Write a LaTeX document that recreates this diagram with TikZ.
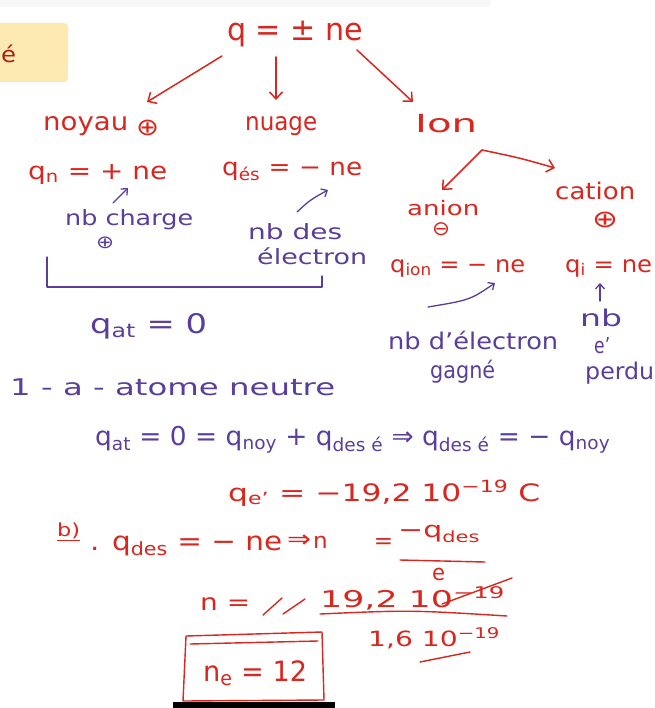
\documentclass[tikz,border=0pt]{standalone}
\usepackage{fontspec}
\setmainfont{DejaVu Sans}
\usetikzlibrary{arrows.meta}
\definecolor{ink}{HTML}{D9261F}
\definecolor{pen}{HTML}{5A3E9C}
\definecolor{note}{HTML}{FCEAB2}
\newcommand{\hw}[3]{\resizebox{#1pt}{\height}{\fontsize{#2}{#2}\selectfont #3}}
\newcommand{\sbt}[1]{\textsubscript{#1}}
\newcommand{\spt}[1]{\textsuperscript{#1}}
\tikzset{
  rt/.style={text=ink, inner sep=0pt, anchor=west},
  pt/.style={text=pen, inner sep=0pt, anchor=west},
  rarr/.style={draw=ink, line width=1.5pt, line cap=round, line join=round, -{Straight Barb[length=7pt,width=13pt]}},
  rline/.style={draw=ink, line width=1.4pt, line cap=round, line join=round},
  parr/.style={draw=pen, line width=1.3pt, line cap=round, -{Straight Barb[length=5pt,width=9pt]}},
  pline/.style={draw=pen, line width=1.3pt, line cap=round, line join=round},
}
\begin{document}
\begin{tikzpicture}[x=1pt,y=-1pt]
\fill[white] (0,0) rectangle (654,708);
\useasboundingbox (0,0) rectangle (654,708);
% background details
\fill[gray!6] (0,0) rectangle (490,7);
\fill[note, rounded corners=4pt] (-6,23) rectangle (68,82);
\node[rt, text=ink!80!black] (ee) at (1,54) {\hw{15}{22}{é}};
\fill[black] (173,702) rectangle (335,708);

% top level
\node[rt] (q) at (227,34) {\hw{136}{31}{q = ± ne}};
\node[rt] (noy) at (43,126) {\hw{85}{25}{noyau}};
\node[rt] (noyp) at (136,128) {\hw{23}{24}{⊕}};
\node[rt] (nua) at (245,126) {\hw{72}{25}{nuage}};
\node[rt] (ion) at (415,124) {\hw{62}{25}{Ion}};
\coordinate (qa) at (222,56);
\coordinate (qb) at (147,102);
\coordinate (qc) at (276,57);
\coordinate (qd) at (276,100);
\coordinate (qe) at (357,50);
\coordinate (qf) at (413,102);
\draw[rarr] (qa) -- (qb);
\draw[rarr] (qc) -- (qd);
\draw[rarr] (qe) -- (qf);

% second row
\node[rt] (qn) at (28,174) {\hw{139}{24}{q\sbt{n} = + ne}};
\node[rt] (qes) at (222,171) {\hw{140}{24}{q\sbt{és} = − ne}};
\coordinate (ia) at (482,150);
\coordinate (ib) at (442,190);
\coordinate (ic) at (555,168);
\draw[rarr] (ia) -- (ib);
\draw[rarr] (ia) .. controls (520,158) .. (ic);
\node[rt] (ani) at (407,208) {\hw{72}{20}{anion}};
\node[rt] (anim) at (432,229) {\hw{18}{20}{⊖}};
\node[rt] (cat) at (555,191) {\hw{80}{23}{cation}};
\node[rt] (catp) at (592,220) {\hw{26}{24}{⊕}};

% purple notes left
\coordinate (sa) at (113,203);
\coordinate (sb) at (128,188);
\draw[parr] (sa) -- (sb);
\node[pt] (nbc) at (65,220) {\hw{128}{21}{nb charge}};
\node[pt] (nbcp) at (96,243) {\hw{18}{18}{⊕}};
\coordinate (sc) at (297,212);
\coordinate (sd) at (328,190);
\draw[parr] (sc) .. controls (310,200) .. (sd);
\node[pt] (nbd) at (248,232) {\hw{94}{21}{nb des}};
\node[pt] (ele) at (257,256) {\hw{110}{21}{électron}};
\coordinate (ba) at (47,257);
\coordinate (bb) at (322,276);
\draw[pline] (ba) -- (47,287) -- (322,287) -- (bb);
\node[pt] (qat) at (90,326) {\hw{117}{27}{q\sbt{at} = 0}};

% ions
\node[rt] (qion) at (390,268) {\hw{135}{23}{q\sbt{ion} = − ne}};
\node[rt] (qi) at (565,268) {\hw{87}{23}{q\sbt{i} = ne}};
\coordinate (pa) at (428,307);
\coordinate (pb) at (495,283);
\draw[parr] (pa) .. controls (470,300) .. (pb);
\coordinate (pc) at (600,301);
\coordinate (pd) at (600,283);
\draw[parr] (pc) -- (pd);
\node[pt] (nbe) at (388,340) {\hw{170}{23}{nb d'électron}};
\node[pt] (gag) at (430,372) {\hw{65}{23}{gagné}};
\node[pt] (nb2) at (580,318) {\hw{42}{23}{nb}};
\node[pt] (e2) at (594,346) {\hw{16}{22}{e'}};
\node[pt] (per) at (585,373) {\hw{69}{23}{perdu}};

% part 1-a
\node[pt] (t1a) at (10,387) {\hw{325}{23}{1 - a - atome neutre}};
\node[pt] (eq1) at (95,440) {\hw{515}{26}{q\sbt{at} = 0 = q\sbt{noy} + q\sbt{des é} ⇒ q\sbt{des é} = − q\sbt{noy}}};
\node[rt] (qe1) at (228,493) {\hw{312}{24}{q\sbt{e'} = −19,2 10\spt{−19} C}};

% part b
\node[rt] (pb1) at (57,532) {\hw{23}{18}{\underline{b)}}};
\node[rt] (pb2) at (90,546) {\hw{192}{26}{. q\sbt{des} = − ne}};
\node[rt] (pb3) at (287,541) {\hw{24}{24}{⇒}};
\node[rt] (pb4) at (313,542) {\hw{80}{22}{n\hspace{44pt}=}};
\node[rt] (pb5) at (398,534) {\hw{82}{22}{−q\sbt{des}}};
\coordinate (fa) at (400,560);
\coordinate (fb) at (485,562);
\draw[rline] (fa) -- (fb);
\node[rt] (pb6) at (432,574) {\hw{13}{22}{e}};

\node[rt] (n2) at (200,604) {\hw{50}{23}{n =}};
\coordinate (xa) at (263,615);
\coordinate (xb) at (282,598);
\coordinate (xc) at (283,614);
\coordinate (xd) at (305,599);
\draw[rline] (xa) -- (xb);
\draw[rline] (xc) -- (xd);
\node[rt] (num) at (320,598) {\hw{185}{23}{19,2 10\spt{−19}}};
\coordinate (xe) at (442,604);
\coordinate (xf) at (512,578);
\draw[rline] (xe) -- (xf);
\coordinate (fc) at (320,614);
\coordinate (fd) at (507,616);
\draw[rline] (fc) .. controls (410,610) .. (fd);
\node[rt] (den) at (368,638) {\hw{132}{21}{1,6 10\spt{−19}}};
\coordinate (xg) at (420,662);
\coordinate (xh) at (470,652);
\draw[rline] (xg) -- (xh);

% result box
\coordinate (ra) at (186,636);
\coordinate (rb) at (322,632);
\coordinate (rc) at (324,700);
\coordinate (rd) at (183,701);
\draw[rline] (ra) -- (rb) -- (rc) -- (rd) -- cycle;
\draw[rline] (190,644) -- (318,641);
\node[rt] (res) at (203,673) {\hw{104}{28}{n\sbt{e} = 12}};
\end{tikzpicture}
\end{document}
